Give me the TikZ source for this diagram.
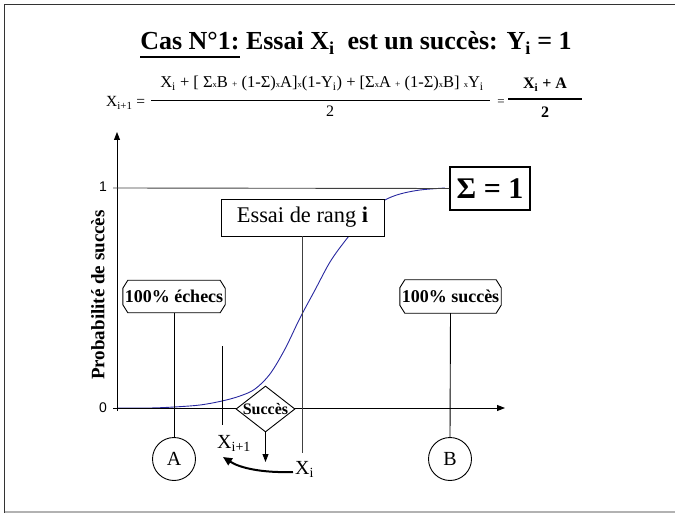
\documentclass[tikz,border=0pt]{standalone}
\usepackage{fontspec}
\setmainfont{Liberation Serif}
\newfontfamily\sansf{Liberation Sans}
\usetikzlibrary{shapes.geometric,arrows.meta}
\definecolor{curveblue}{RGB}{40,40,160}
\newcommand\fsz[1]{\fontsize{#1}{#1}\selectfont}
\newcommand\smx{{\fsz{8.5}x}}
\newcommand\smp{{\fsz{9.5}+}}
\newcommand\myul[1]{\setbox0\hbox{#1}\rlap{\rule[-8pt]{\wd0}{2pt}}\box0\relax}
\newcommand\octo[1]{\draw[line width=0.9pt] ([xshift=5pt]#1.north west) -- ([xshift=-5pt]#1.north east) -- ([yshift=-8pt]#1.north east) -- ([yshift=8pt]#1.south east) -- ([xshift=-5pt]#1.south east) -- ([xshift=5pt]#1.south west) -- ([yshift=8pt]#1.south west) -- ([yshift=-8pt]#1.north west) -- cycle;}
\begin{document}
\begin{tikzpicture}[x=1pt,y=-1pt,
  ln/.style={line width=0.9pt},
  tri/.style={-{Triangle[length=8pt,width=6pt]}},
  boxn/.style={draw,fill=white,line width=0.9pt,inner sep=0pt},
  lab/.style={inner sep=0pt}]
\useasboundingbox (0,0) rectangle (675,513);
% frame
\draw[black!80,line width=1.5pt] (4.5,513) -- (4.5,4.5) -- (675,4.5);
\draw[black!30,line width=1.2pt] (4.5,512) -- (675,512);
% title
\node[lab,anchor=base] (title) at (356,50) {\fsz{26}\bfseries \myul{Cas N°1:} Essai X\textsubscript{i}\ \ est un succès: Y\textsubscript{i} = 1};
% formula
\node[lab,anchor=base west] (xlhs) at (106,107) {\fsz{15.5}X\textsubscript{i+1} =};
\node[lab,anchor=base] (num) at (322,88) {\fsz{16.5}X\textsubscript{i} + [ Σ\smx B \smp\ (1-Σ)\smx A]\smx(1-Y\textsubscript{i}) + [Σ\smx A \smp\ (1-Σ)\smx B] \smx Y\textsubscript{i}};
\draw[line width=0.6pt] (151,100) -- (490,100);
\node[lab,anchor=base] (den) at (330,117) {\fsz{16}2};
\node[lab,anchor=base] (eq2) at (501,106) {\fsz{13}=};
\node[lab,anchor=base] (num2) at (545,89) {\fsz{16}\bfseries X\textsubscript{i} + A};
\draw[line width=2.5pt] (508,99) -- (582,99);
\node[lab,anchor=base] (den2) at (545,118) {\fsz{16}\bfseries 2};
% curve
\draw[curveblue,line width=0.9pt] plot[smooth,tension=0.55] coordinates {(117,408) (150,408) (174,407) (200,405) (222,401) (240,396) (255,389) (270,374) (285,349) (300,318) (315,290) (330,262) (345,241) (360,223) (372,210) (385,200) (400,194) (420,190) (445,188)};
% axes
\coordinate (ytop) at (117,132);
\coordinate (ybot) at (117,411);
\coordinate (xstart) at (113,408);
\coordinate (xend) at (505,408);
\coordinate (one) at (113,188);
\draw[ln,tri] (ybot) -- (ytop);
\draw[ln,tri] (xstart) -- (xend);
\node[lab] (l1) at (103,187) {\sansf\fsz{14}1};
\node[lab] (l0) at (103,408) {\sansf\fsz{14}0};
\node[lab,rotate=90] (ylab) at (98,295) {\fsz{19}\bfseries Probabilité de succès};
% boxes
\node[boxn,minimum width=80,minimum height=43,line width=1.1pt] (sig) at (490,188.5) {\fsz{30}\bfseries Σ = 1};
\node[boxn,minimum width=163,minimum height=37] (ess) at (302.5,217.5) {\fsz{22.4}Essai de rang \textbf{i}};
\node[lab,minimum width=102,minimum height=32] (ech) at (174,296.5) {\fsz{18}\bfseries 100\% échecs};
\octo{ech}
\node[lab,minimum width=101,minimum height=33] (suc) at (450.5,296.5) {\fsz{18}\bfseries 100\% succès};
\octo{suc}
\node[diamond,draw,fill=white,line width=0.9pt,minimum width=59,minimum height=46,inner sep=0pt] (dia) at (265.5,409) {};
\node[lab] (succtxt) at (dia.center) {\fsz{16}\bfseries Succès};
\node[draw,circle,line width=0.9pt,minimum size=43,inner sep=0pt] (A) at (174,459) {\fsz{20}A};
\node[draw,circle,line width=0.9pt,minimum size=43,inner sep=0pt] (B) at (450,459) {\fsz{20}B};
\node[lab,anchor=base west] (xip) at (217,448) {\fsz{20}X\textsubscript{i+1}};
\node[lab,anchor=base west] (xi) at (295,474) {\fsz{20}X\textsubscript{i}};
% connectors
\draw[ln,black!75] (one) -- (sig.west);
\draw[ln] (ech.south) -- (A.north);
\draw[ln] (suc.south) -- (B.north);
\coordinate (ebot) at (302.5,453);
\draw[ln,black!75] (ess.south) -- (ebot);
\coordinate (s1) at (222,346);
\coordinate (s2) at (222,425);
\draw[ln] (s1) -- (s2);
\coordinate (dtip) at (265.5,462);
\draw[ln,tri] (dia.south) -- (dtip);
\coordinate (ctip) at (223,457);
\draw[line width=2pt,-{Triangle[length=9pt,width=8pt]}] ([xshift=-2pt,yshift=-3pt]xi.west) .. controls (262,473) and (240,468) .. (ctip);
\end{tikzpicture}
\end{document}
